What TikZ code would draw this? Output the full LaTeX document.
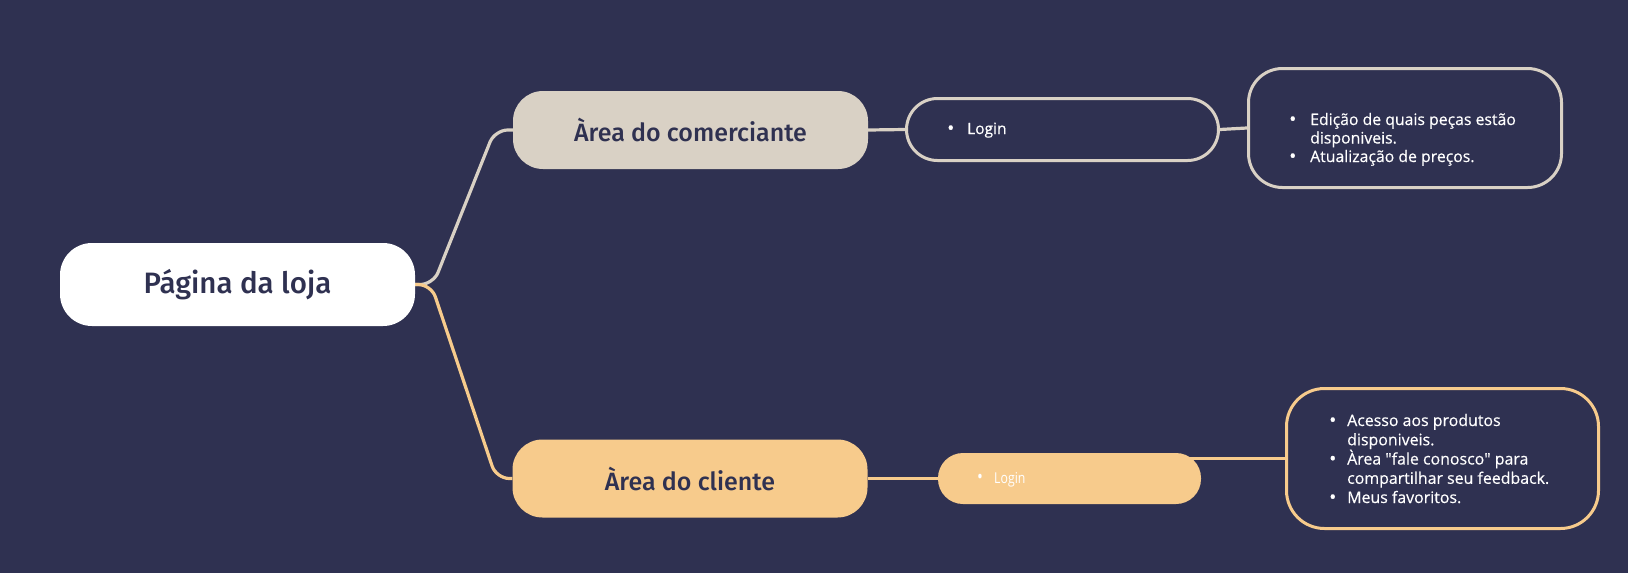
\documentclass[tikz,border=0pt]{standalone}
\usepackage{fontspec}
\setmainfont{Open Sans}[FakeBold=0.35]
\newfontfamily\titlefont{Fira Sans Medium}
\newfontfamily\condfont[FakeStretch=0.82]{Open Sans}
\usetikzlibrary{calc}
\definecolor{bgc}{HTML}{2F3151}
\definecolor{beige}{HTML}{D9D1C5}
\definecolor{orng}{HTML}{F7CB8C}
\definecolor{ink}{HTML}{2F3151}
\pgfdeclarelayer{background}
\pgfsetlayers{background,main}
\newcommand{\bul}[1]{\makebox[#1][l]{\raisebox{-0.6pt}{\fontsize{19}{19}\selectfont\textbullet}}}
\tikzset{
  mainbox/.style={fill=white, rounded corners=32pt, minimum width=355pt, minimum height=83pt, inner sep=0pt, text=ink, font=\titlefont\fontsize{29.5}{32}\selectfont},
  catbox/.style={rounded corners=30pt, minimum width=355pt, minimum height=78pt, inner sep=0pt, text=ink, font=\titlefont\fontsize{25}{28}\selectfont},
  outlinebox/.style={draw=#1, line width=3pt, fill=bgc, inner sep=0pt},
  conn/.style={draw=#1, line width=3.2pt, rounded corners=13pt},
  listtext/.style={anchor=base west, inner sep=0pt, text=white, font=\fontsize{15.8}{18}\selectfont},
  listtextb/.style={anchor=base west, inner sep=0pt, text=white, font=\fontsize{15.9}{18}\selectfont},
}
\begin{document}
\begin{tikzpicture}[x=1pt,y=-1pt]
\useasboundingbox (0,0) rectangle (1628,573);
% main nodes
\node[mainbox] (root) at (237.5,284.5) {Página da loja};
\node[catbox, fill=beige] (com) at (690.5,130) {Àrea do comerciante};
\node[catbox, fill=orng] (cli) at (690,478.5) {Àrea do cliente};
% login boxes
\node[outlinebox=beige, rounded corners=31pt, minimum width=312pt, minimum height=62pt] (logt) at (1062.5,129.5) {};
\node[fill=orng, rounded corners=25pt, minimum width=263pt, minimum height=51pt, inner sep=0pt] (logb) at (1069.5,478.5) {};
% detail boxes
\node[outlinebox=beige, rounded corners=34pt, minimum width=313pt, minimum height=119pt] (tbox) at (1405,128) {};
\node[outlinebox=orng, rounded corners=38pt, minimum width=312pt, minimum height=140pt] (cbox) at (1442.5,458.5) {};
% texts
\node[listtext, font=\fontsize{15.5}{18}\selectfont] (logttext) at (947,134) {\bul{20pt}Login};
\node[listtext, font=\condfont\fontsize{15}{18}\selectfont] (logbtext) at (977,483) {\bul{17pt}Login};
\node[listtext] (t1) at (1289,125) {\bul{21pt}Edição de quais peças estão};
\node[listtext] (t2) at (1310,143.5) {disponiveis.};
\node[listtext] (t3) at (1289,162) {\bul{21pt}Atualização de preços.};
\node[listtextb] (c1) at (1329,426) {\bul{18pt}Acesso aos produtos};
\node[listtextb] (c2) at (1347,445.3) {disponiveis.};
\node[listtextb] (c3) at (1329,464.5) {\bul{18pt}Àrea \textquotedbl fale conosco\textquotedbl{} para};
\node[listtextb] (c4) at (1347,483.8) {compartilhar seu feedback.};
\node[listtextb] (c5) at (1329,503) {\bul{18pt}Meus favoritos.};
% background and connectors
\begin{pgfonlayer}{background}
\fill[bgc] (0,0) rectangle (1628,573);
\draw[conn=beige] (root.east) -- ++(18,0) -- ([xshift=-18pt]com.west) -- (com.west);
\draw[conn=orng] (root.east) -- ++(16,0) -- ([xshift=-16pt]cli.west) -- (cli.west);
\draw[conn=beige] (com.east) -- (logt.west);
\draw[conn=beige] (logt.east) -- (tbox.west);
\draw[conn=orng] (cli.east) -- (logb.west);
\draw[conn=orng] (logb.center |- cbox.west) -- (cbox.west);
\end{pgfonlayer}
\end{tikzpicture}
\end{document}
